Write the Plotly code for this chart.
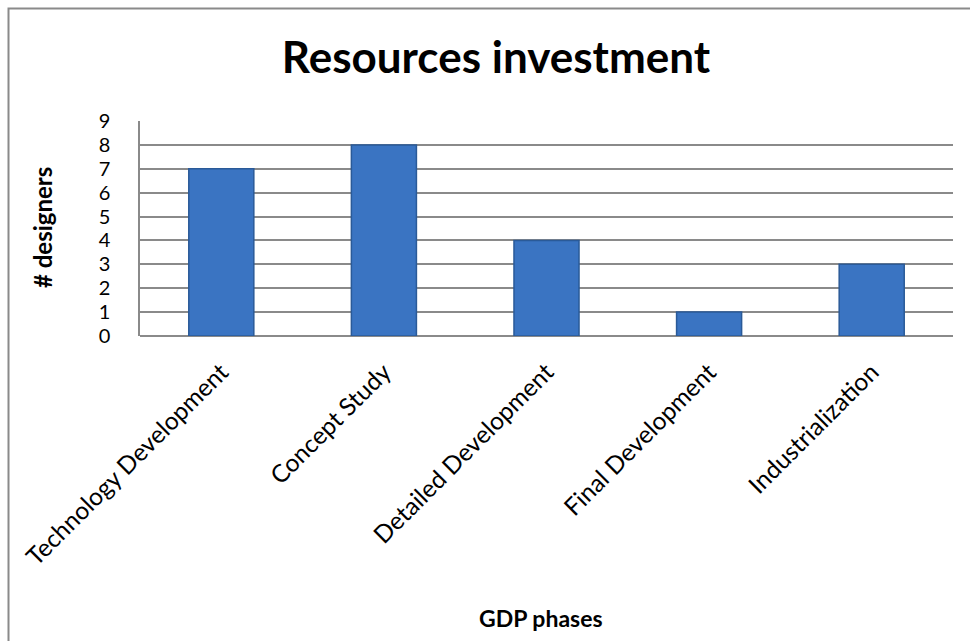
import plotly.graph_objects as go

categories = ["Technology Development", "Concept Study", "Detailed Development",
              "Final Development", "Industrialization"]
designers = [7, 8, 4, 1, 3]
y_ticks = list(range(0, 10))

FONT = "Lato"
W, H = 970, 641
ML, MR, MT, MB = 140, 17, 121, 305
PW, PH = W - ML - MR, H - MT - MB

fig = go.Figure()
fig.add_trace(go.Bar(
    x=categories, y=designers,
    marker=dict(color="#3A74C2", line=dict(color="#2A5A98", width=1.5)),
    width=0.4,
))

fig.update_layout(
    width=W, height=H,
    margin=dict(l=ML, r=MR, t=MT, b=MB, autoexpand=False),
    paper_bgcolor="white", plot_bgcolor="white",
    showlegend=False,
    font=dict(family=FONT, color="black"),
    title=dict(text="<b>Resources investment</b>", x=496 / W, xanchor="center",
               y=1 - 58 / H, yanchor="middle", yref="container",
               font=dict(size=44, family=FONT, color="black")),
    xaxis=dict(tickangle=-45, tickfont=dict(size=24.5, family=FONT),
               showgrid=False, showline=False, ticks="",
               ticklabelstandoff=16),
    yaxis=dict(range=[0, 9], tickvals=y_ticks, tickfont=dict(size=20, family=FONT),
               showgrid=True, gridcolor="#8A8A8A", gridwidth=1.5,
               showline=True, linecolor="#8A8A8A", linewidth=1.5,
               zeroline=True, zerolinecolor="#8A8A8A", zerolinewidth=1.5,
               ticks="", ticklabelstandoff=24),
    annotations=[
        dict(text="<b># designers</b>", textangle=-90, xref="paper", yref="paper",
             x=(42 - ML) / PW, y=(336 - 228) / PH, xanchor="center", yanchor="middle",
             showarrow=False, font=dict(size=24, family=FONT, color="black")),
        dict(text="<b>GDP phases</b>", xref="paper", yref="paper",
             x=(541 - ML) / PW, y=-(618 - 336) / PH, xanchor="center", yanchor="middle",
             showarrow=False, font=dict(size=23, family=FONT, color="black")),
    ],
)

# outer chart frame
fig.add_shape(type="rect", xref="paper", yref="paper",
              x0=(8.5 - ML) / PW, x1=(W + 20 - ML) / PW,
              y0=-(H + 20 - MT - PH) / PH, y1=1 + (MT - 8.5) / PH,
              line=dict(color="#8A8A8A", width=2), fillcolor="rgba(0,0,0,0)",
              layer="below")

fig.write_html("out.html")
